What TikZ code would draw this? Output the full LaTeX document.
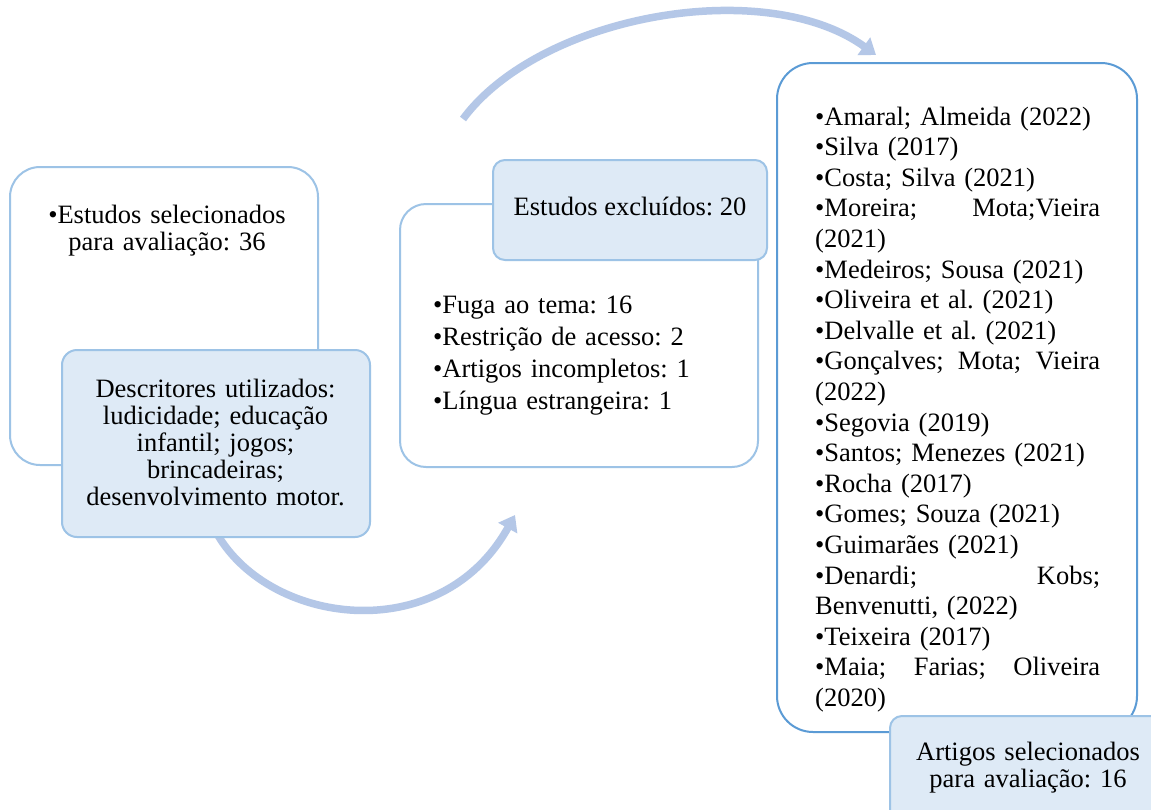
\documentclass[tikz,border=0pt]{standalone}
\usepackage{fontspec}
\setmainfont{Liberation Serif}
\usetikzlibrary{arrows.meta}
\frenchspacing
\definecolor{boxline}{HTML}{9DC3E6}
\definecolor{boxlinedark}{HTML}{5B9BD5}
\definecolor{boxfill}{HTML}{DEEAF6}
\definecolor{arrowcol}{HTML}{B4C7E7}
\tikzset{
  whitebox/.style={draw=boxline, line width=2pt, fill=white},
  bluebox/.style={draw=boxline, line width=2pt, fill=boxfill},
  flowarrow/.style={draw=arrowcol, line width=7.5pt, -{Triangle[width=21pt,length=15pt]}},
  txt/.style={inner sep=0pt, font=\fontsize{26.5}{30.6}\selectfont},
}
\begin{document}
\begin{tikzpicture}[x=1pt,y=-1pt]
\useasboundingbox (0,0) rectangle (1151,809);
\clip (0,0) rectangle (1151,809);
\fill[white] (0,0) rectangle (1151,809);

% connectors (drawn behind the boxes)
\coordinate (t1) at (463,119);
\coordinate (t2) at (876,55);
\coordinate (b1) at (215,530);
\coordinate (b2) at (515,515);
\draw[flowarrow] (t1) .. controls (540,15) and (765,-25) .. (t2);
\draw[flowarrow] (b1) .. controls (265,625) and (440,650) .. (b2);

% box 1
\draw[whitebox, rounded corners=30pt] (10,167) rectangle (318,465);
\draw[bluebox, rounded corners=15pt] (62,350) rectangle (370,537);
% box 2
\draw[whitebox, rounded corners=26pt] (400,204) rectangle (758,467);
\draw[bluebox, rounded corners=12pt] (493,160) rectangle (767,260);
% box 3
\draw[whitebox, draw=boxlinedark, rounded corners=36pt] (777,63) rectangle (1137,732);
\draw[bluebox, rounded corners=12pt] (890,716) rectangle (1170,830);

% texts
\node[txt, anchor=base, align=center, text width=280pt,
      font=\fontsize{26.5}{27}\selectfont] (n1) at (167,223)
  {•Estudos selecionados\\para avaliação: 36};
\node[txt, anchor=base, align=center, text width=300pt,
      font=\fontsize{26.5}{27}\selectfont] (n1b) at (215.5,397)
  {Descritores utilizados:\\ludicidade; educação\\infantil; jogos;\\brincadeiras;\\desenvolvimento motor.};
\node[txt, anchor=base] (n2b) at (630,215) {Estudos excluídos: 20};
\node[txt, anchor=base west, align=left, text width=310pt,
      font=\fontsize{26.5}{32.3}\selectfont] (n2) at (433,313)
  {•Fuga ao tema: 16\\•Restrição de acesso: 2\\•Artigos incompletos: 1\\•Língua estrangeira: 1};
\node[txt, anchor=base west, align=left, text width=285pt] (n3) at (815,125)
  {•Amaral; Almeida (2022)\\
   •Silva (2017)\\
   •Costa; Silva (2021)\\
   •Moreira;\hfill Mota;Vieira\\
   (2021)\\
   •Medeiros; Sousa (2021)\\
   •Oliveira et al. (2021)\\
   •Delvalle et al. (2021)\\
   •Gonçalves;\hfill Mota;\hfill Vieira\\
   (2022)\\
   •Segovia (2019)\\
   •Santos; Menezes (2021)\\
   •Rocha (2017)\\
   •Gomes; Souza (2021)\\
   •Guimarães (2021)\\
   •Denardi;\hfill Kobs;\\
   Benvenutti, (2022)\\
   •Teixeira (2017)\\
   •Maia;\hfill Farias;\hfill Oliveira\\
   (2020)};
\node[txt, anchor=base, align=center, text width=240pt,
      font=\fontsize{26.5}{27}\selectfont] (n3b) at (1028,760)
  {Artigos selecionados\\para avaliação: 16};
\end{tikzpicture}
\end{document}
